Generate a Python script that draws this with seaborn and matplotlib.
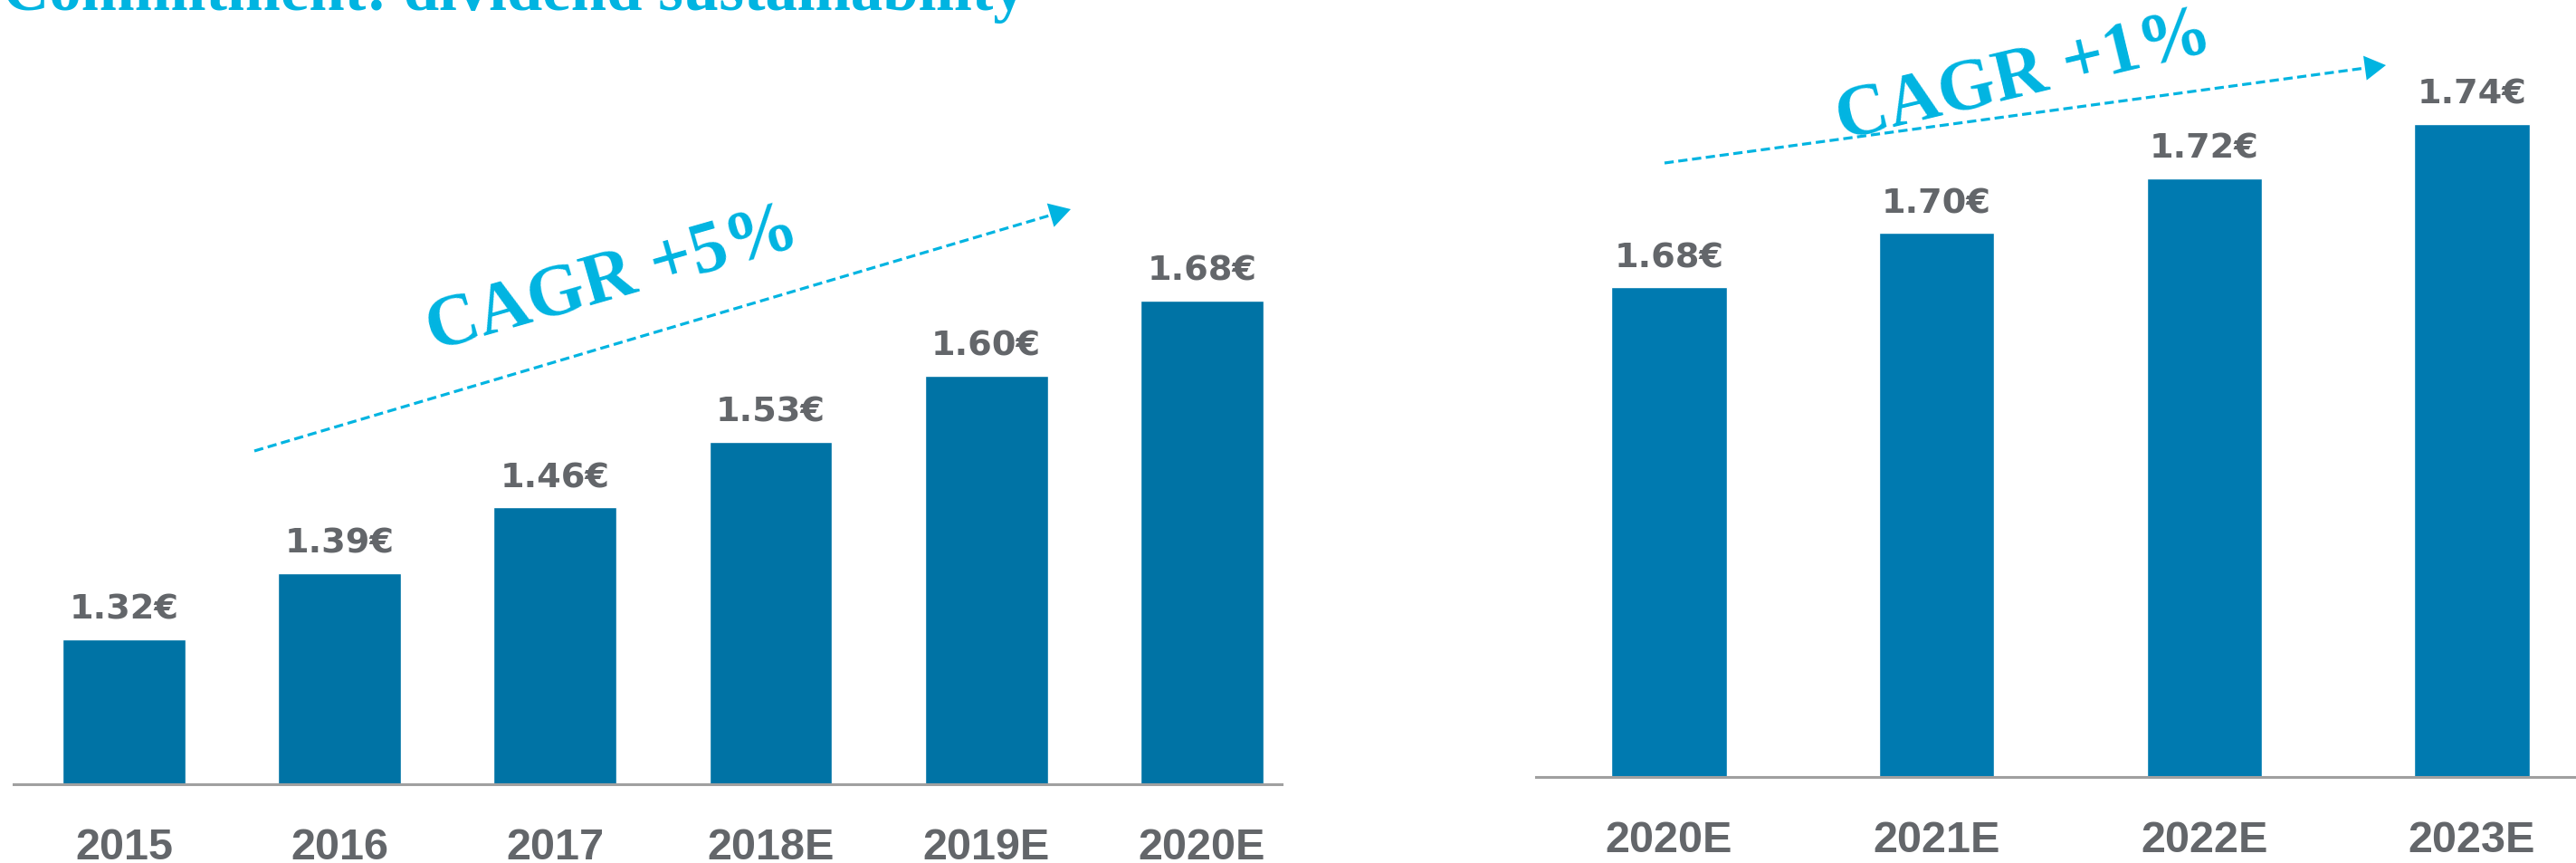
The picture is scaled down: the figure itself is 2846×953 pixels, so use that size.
import numpy as np
import pandas as pd
import seaborn as sns
import matplotlib.pyplot as plt
from matplotlib.lines import Line2D
from matplotlib.patches import FancyArrowPatch

# Dividend per share: delivered / committed path and the extended outlook
years_hist = ["2015", "2016", "2017", "2018E", "2019E", "2020E"]
dps_hist = [1.32, 1.39, 1.46, 1.53, 1.60, 1.68]

years_plan = ["2020E", "2021E", "2022E", "2023E"]
dps_plan = [1.68, 1.70, 1.72, 1.74]

title_text = "Commitment: dividend sustainability"
cagr_hist = "CAGR +5%"
cagr_plan = "CAGR +1%"

W, H, DPI = 2846, 954, 100
BAR_L = "#0073A5"
BAR_R = "#007AB0"
CYAN = "#00B4E1"
GREY_TXT = "#63666A"
AXIS_GREY = "#A0A0A0"
SERIF = ["Liberation Serif", "DejaVu Serif"]

sns.set_theme(style="white")
plt.rcParams["font.family"] = ["DejaVu Sans"]

fig = plt.figure(figsize=(W / DPI, H / DPI), dpi=DPI)
fig.patch.set_facecolor("white")


def frac(x, y_top):
    """Pixel position (from the top-left corner) to figure fraction."""
    return x / W, 1 - y_top / H


def px_axes(left, bottom, right, top):
    return fig.add_axes([left / W, 1 - bottom / H, (right - left) / W, (bottom - top) / H])


ax1 = px_axes(15, 867, 1416, 0)
ax2 = px_axes(1697, 859, 2846, 0)

df_hist = pd.DataFrame({"year": years_hist, "dps": dps_hist})
df_plan = pd.DataFrame({"year": years_plan, "dps": dps_plan})

sns.barplot(data=df_hist, x="year", y="dps", color=BAR_L, saturation=1,
            width=0.57, ax=ax1, errorbar=None)
sns.barplot(data=df_plan, x="year", y="dps", color=BAR_R, saturation=1,
            width=0.43, ax=ax2, errorbar=None)

ax1.set_xlim(-0.512, 5.37)
ax1.set_ylim(1.166, 2.0)
ax2.set_xlim(-0.497, 3.389)
ax2.set_ylim(1.5, 1.786)

for ax, vals in ((ax1, dps_hist), (ax2, dps_plan)):
    ax.set_facecolor("none")
    for side in ("top", "left", "right"):
        ax.spines[side].set_visible(False)
    ax.spines["bottom"].set_color(AXIS_GREY)
    ax.spines["bottom"].set_linewidth(2.2)
    ax.set_yticks([])
    ax.set_xlabel("")
    ax.set_ylabel("")
    ax.tick_params(axis="x", length=0, pad=34, labelsize=35, labelcolor=GREY_TXT)
    for lab in ax.get_xticklabels():
        lab.set_fontweight("bold")
        lab.set_family(["Liberation Sans", "DejaVu Sans"])
    ax.bar_label(ax.containers[0], labels=[f"{v:.2f}€" for v in vals],
                 padding=11, fontsize=27.5, fontweight="bold", color=GREY_TXT)

# Section title, partly running off the top edge
fig.text(*frac(3, 11), title_text, ha="left", va="baseline", fontsize=51,
         fontweight="bold", color=CYAN, family=SERIF)


def trend_arrow(p0, p1):
    x0, y0 = p0
    x1, y1 = p1
    d = np.hypot(x1 - x0, y1 - y0)
    ux, uy = (x1 - x0) / d, (y1 - y0) / d
    xe, ye = x1 - ux * 14, y1 - uy * 14
    line = Line2D([frac(x0, y0)[0], frac(xe, ye)[0]],
                  [frac(x0, y0)[1], frac(xe, ye)[1]],
                  transform=fig.transFigure, color=CYAN, lw=2.3,
                  dashes=(3.2, 1.6))
    fig.add_artist(line)
    head = FancyArrowPatch(frac(x1 - ux * 24, y1 - uy * 24), frac(x1, y1),
                           transform=fig.transFigure,
                           arrowstyle="-|>,head_length=0.6,head_width=0.35",
                           mutation_scale=28, color=CYAN, lw=0,
                           shrinkA=0, shrinkB=0)
    fig.add_artist(head)


trend_arrow((281, 499), (1183, 232))
trend_arrow((1839, 181), (2636, 73))

fig.text(*frac(677, 310), cagr_hist, ha="center", va="center", rotation=16,
         rotation_mode="anchor", fontsize=58, fontweight="bold", color=CYAN,
         family=SERIF)
fig.text(*frac(2236, 86), cagr_plan, ha="center", va="center", rotation=13.5,
         rotation_mode="anchor", fontsize=58, fontweight="bold", color=CYAN,
         family=SERIF)

fig.savefig("out.png", dpi=DPI, facecolor="white")
